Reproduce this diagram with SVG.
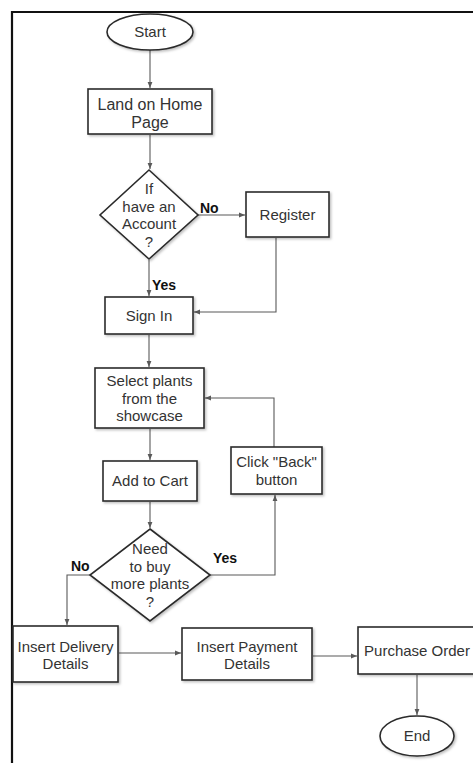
<svg xmlns="http://www.w3.org/2000/svg" width="473" height="763" viewBox="0 0 473 763">
<style>
.s{fill:#fff;stroke:#2b2b2b;stroke-width:1.6;filter:url(#sh)}
.t{font-family:"Liberation Sans",Arial,sans-serif;font-size:15px;fill:#333;text-anchor:middle}
.l{font-family:"Liberation Sans",Arial,sans-serif;font-size:14px;font-weight:bold;fill:#111}
.c{fill:none;stroke:#595959;stroke-width:1.1}
.b{fill:none;stroke:#111;stroke-width:2.2}
</style>
<defs>
<filter id="sh" x="-20%" y="-20%" width="140%" height="140%">
<feDropShadow dx="1.5" dy="1.5" stdDeviation="0.8" flood-color="#000" flood-opacity="0.25"/>
</filter>
<marker id="a" viewBox="0 0 10 10" refX="10" refY="5" markerWidth="6" markerHeight="6" orient="auto" markerUnits="userSpaceOnUse">
<path d="M0,1 L10,5 L0,9 Z" fill="#595959"/>
</marker>
</defs>
<rect width="473" height="763" fill="#fff"/>
<path class="b" d="M12,763 V12 H473"/>
<g id="connectors">
<path class="c" d="M150,50 V88" marker-end="url(#a)"/>
<path class="c" d="M150,135 V169" marker-end="url(#a)"/>
<path class="c" d="M198,215 H245" marker-end="url(#a)"/>
<path class="c" d="M149,260 V296" marker-end="url(#a)"/>
<path class="c" d="M276,238 V312 H194" marker-end="url(#a)"/>
<path class="c" d="M149,335 V367" marker-end="url(#a)"/>
<path class="c" d="M150,429 V460" marker-end="url(#a)"/>
<path class="c" d="M274,447 V398 H205" marker-end="url(#a)"/>
<path class="c" d="M150,502 V528" marker-end="url(#a)"/>
<path class="c" d="M210,575 H275 V495" marker-end="url(#a)"/>
<path class="c" d="M90,575 H67 V625" marker-end="url(#a)"/>
<path class="c" d="M119,653 H181" marker-end="url(#a)"/>
<path class="c" d="M313,656 H357" marker-end="url(#a)"/>
<path class="c" d="M417,675 V715" marker-end="url(#a)"/>
<text class="l" x="200" y="213">No</text>
<text class="l" x="152" y="290">Yes</text>
<text class="l" x="213" y="563">Yes</text>
<text class="l" x="71" y="571">No</text>
</g>
<g id="start">
<ellipse class="s" cx="150" cy="32" rx="43" ry="18"/>
<text class="t" x="150" y="37">Start</text>
</g>
<g id="home">
<rect class="s" x="88" y="89" width="124" height="45"/>
<text class="t" x="150" y="110" style="font-size:16px">Land on Home</text>
<text class="t" x="150" y="128" style="font-size:16px">Page</text>
</g>
<g id="account">
<polygon class="s" points="149,170 198,215 149,259 100,215"/>
<text class="t" x="149" y="194">If</text>
<text class="t" x="149" y="212">have an</text>
<text class="t" x="149" y="229">Account</text>
<text class="t" x="149" y="247">?</text>
</g>
<g id="register">
<rect class="s" x="246" y="192" width="83" height="45"/>
<text class="t" x="287.5" y="220">Register</text>
</g>
<g id="signin">
<rect class="s" x="105" y="297" width="88" height="37"/>
<text class="t" x="149" y="321">Sign In</text>
</g>
<g id="select">
<rect class="s" x="95" y="368" width="109" height="60"/>
<text class="t" x="149.5" y="386">Select plants</text>
<text class="t" x="149.5" y="404">from the</text>
<text class="t" x="149.5" y="421">showcase</text>
</g>
<g id="back">
<rect class="s" x="231" y="447" width="91" height="47"/>
<text class="t" x="276.5" y="467">Click "Back"</text>
<text class="t" x="276.5" y="485">button</text>
</g>
<g id="cart">
<rect class="s" x="103" y="461" width="94" height="40"/>
<text class="t" x="150" y="486">Add to Cart</text>
</g>
<g id="more">
<polygon class="s" points="150,529 210,575 150,621 90,575"/>
<text class="t" x="150" y="554">Need</text>
<text class="t" x="150" y="572">to buy</text>
<text class="t" x="150" y="589">more plants</text>
<text class="t" x="150" y="607">?</text>
</g>
<g id="delivery">
<rect class="s" x="13" y="626" width="105" height="56"/>
<text class="t" x="65.5" y="652">Insert Delivery</text>
<text class="t" x="65.5" y="669">Details</text>
</g>
<g id="payment">
<rect class="s" x="182" y="628" width="130" height="52"/>
<text class="t" x="247" y="652">Insert Payment</text>
<text class="t" x="247" y="669">Details</text>
</g>
<g id="purchase">
<rect class="s" x="358" y="627" width="120" height="47"/>
<text class="t" x="417" y="656">Purchase Order</text>
</g>
<g id="end">
<ellipse class="s" cx="417" cy="736" rx="37" ry="20"/>
<text class="t" x="417" y="741">End</text>
</g>
</svg>
